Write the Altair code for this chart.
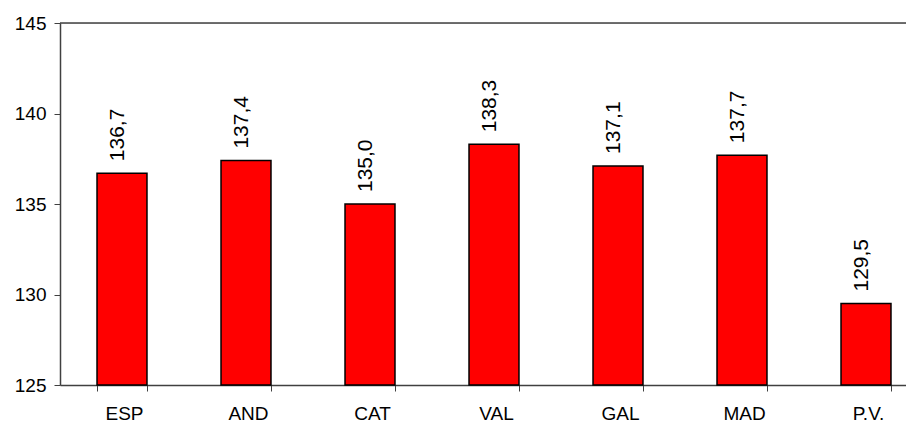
import altair as alt
import pandas as pd

categories = ["ESP", "AND", "CAT", "VAL", "GAL", "MAD", "P.V."]
values = [136.7, 137.4, 135.0, 138.3, 137.1, 137.7, 129.5]

df = pd.DataFrame({"cat": categories, "val": values})

FONT = "Liberation Sans"
AXIS_COLOR = "#404040"

x_scale = alt.Scale(domain=categories, range=[0, 868], paddingInner=0.597, paddingOuter=0.2985)
y_scale = alt.Scale(domain=[125, 145], nice=False, zero=False)

base = alt.Chart(df)

bars = base.mark_bar(color="#FF0000", stroke="#000000", strokeWidth=1.5).encode(
    x=alt.X("cat:N", scale=x_scale, sort=categories,
            axis=alt.Axis(title=None, labelAngle=0, labelFont=FONT, labelFontSize=19,
                          labelColor="#000000", labelPadding=13, tickBand="extent",
                          tickSize=6, tickColor=AXIS_COLOR, domainColor=AXIS_COLOR,
                          domainWidth=1.5, labelOffset=2)),
    y=alt.Y("val:Q", scale=y_scale,
            axis=alt.Axis(title=None, values=[125, 130, 135, 140, 145], labelFont=FONT,
                          labelFontSize=19, labelColor="#000000", labelPadding=8,
                          tickSize=6, tickColor=AXIS_COLOR, domainColor=AXIS_COLOR,
                          domainWidth=1.5, grid=False)),
    y2=alt.datum(125),
)

labels = base.mark_text(angle=270, align="left", baseline="middle", dx=12, dy=-4,
                        font=FONT, fontSize=21, color="#000000").transform_calculate(
    lbl="replace(format(datum.val, '.1f'), '.', ',')"
).encode(
    x=alt.X("cat:N", scale=x_scale, sort=categories),
    y=alt.Y("val:Q", scale=y_scale),
    text="lbl:N",
)

top_rule = alt.Chart(pd.DataFrame({"v": [145]})).mark_rule(color=AXIS_COLOR, strokeWidth=1.5).encode(
    y=alt.Y("v:Q", scale=y_scale)
)

chart = alt.layer(top_rule, bars, labels).properties(
    width=846, height=362,
    autosize=alt.AutoSizeParams(type="none"),
    padding={"left": 52, "top": 15, "right": 0, "bottom": 45},
).configure_view(stroke=None).configure(background="white")

chart.save("out.html", embed_options={"renderer": "svg", "actions": False})
